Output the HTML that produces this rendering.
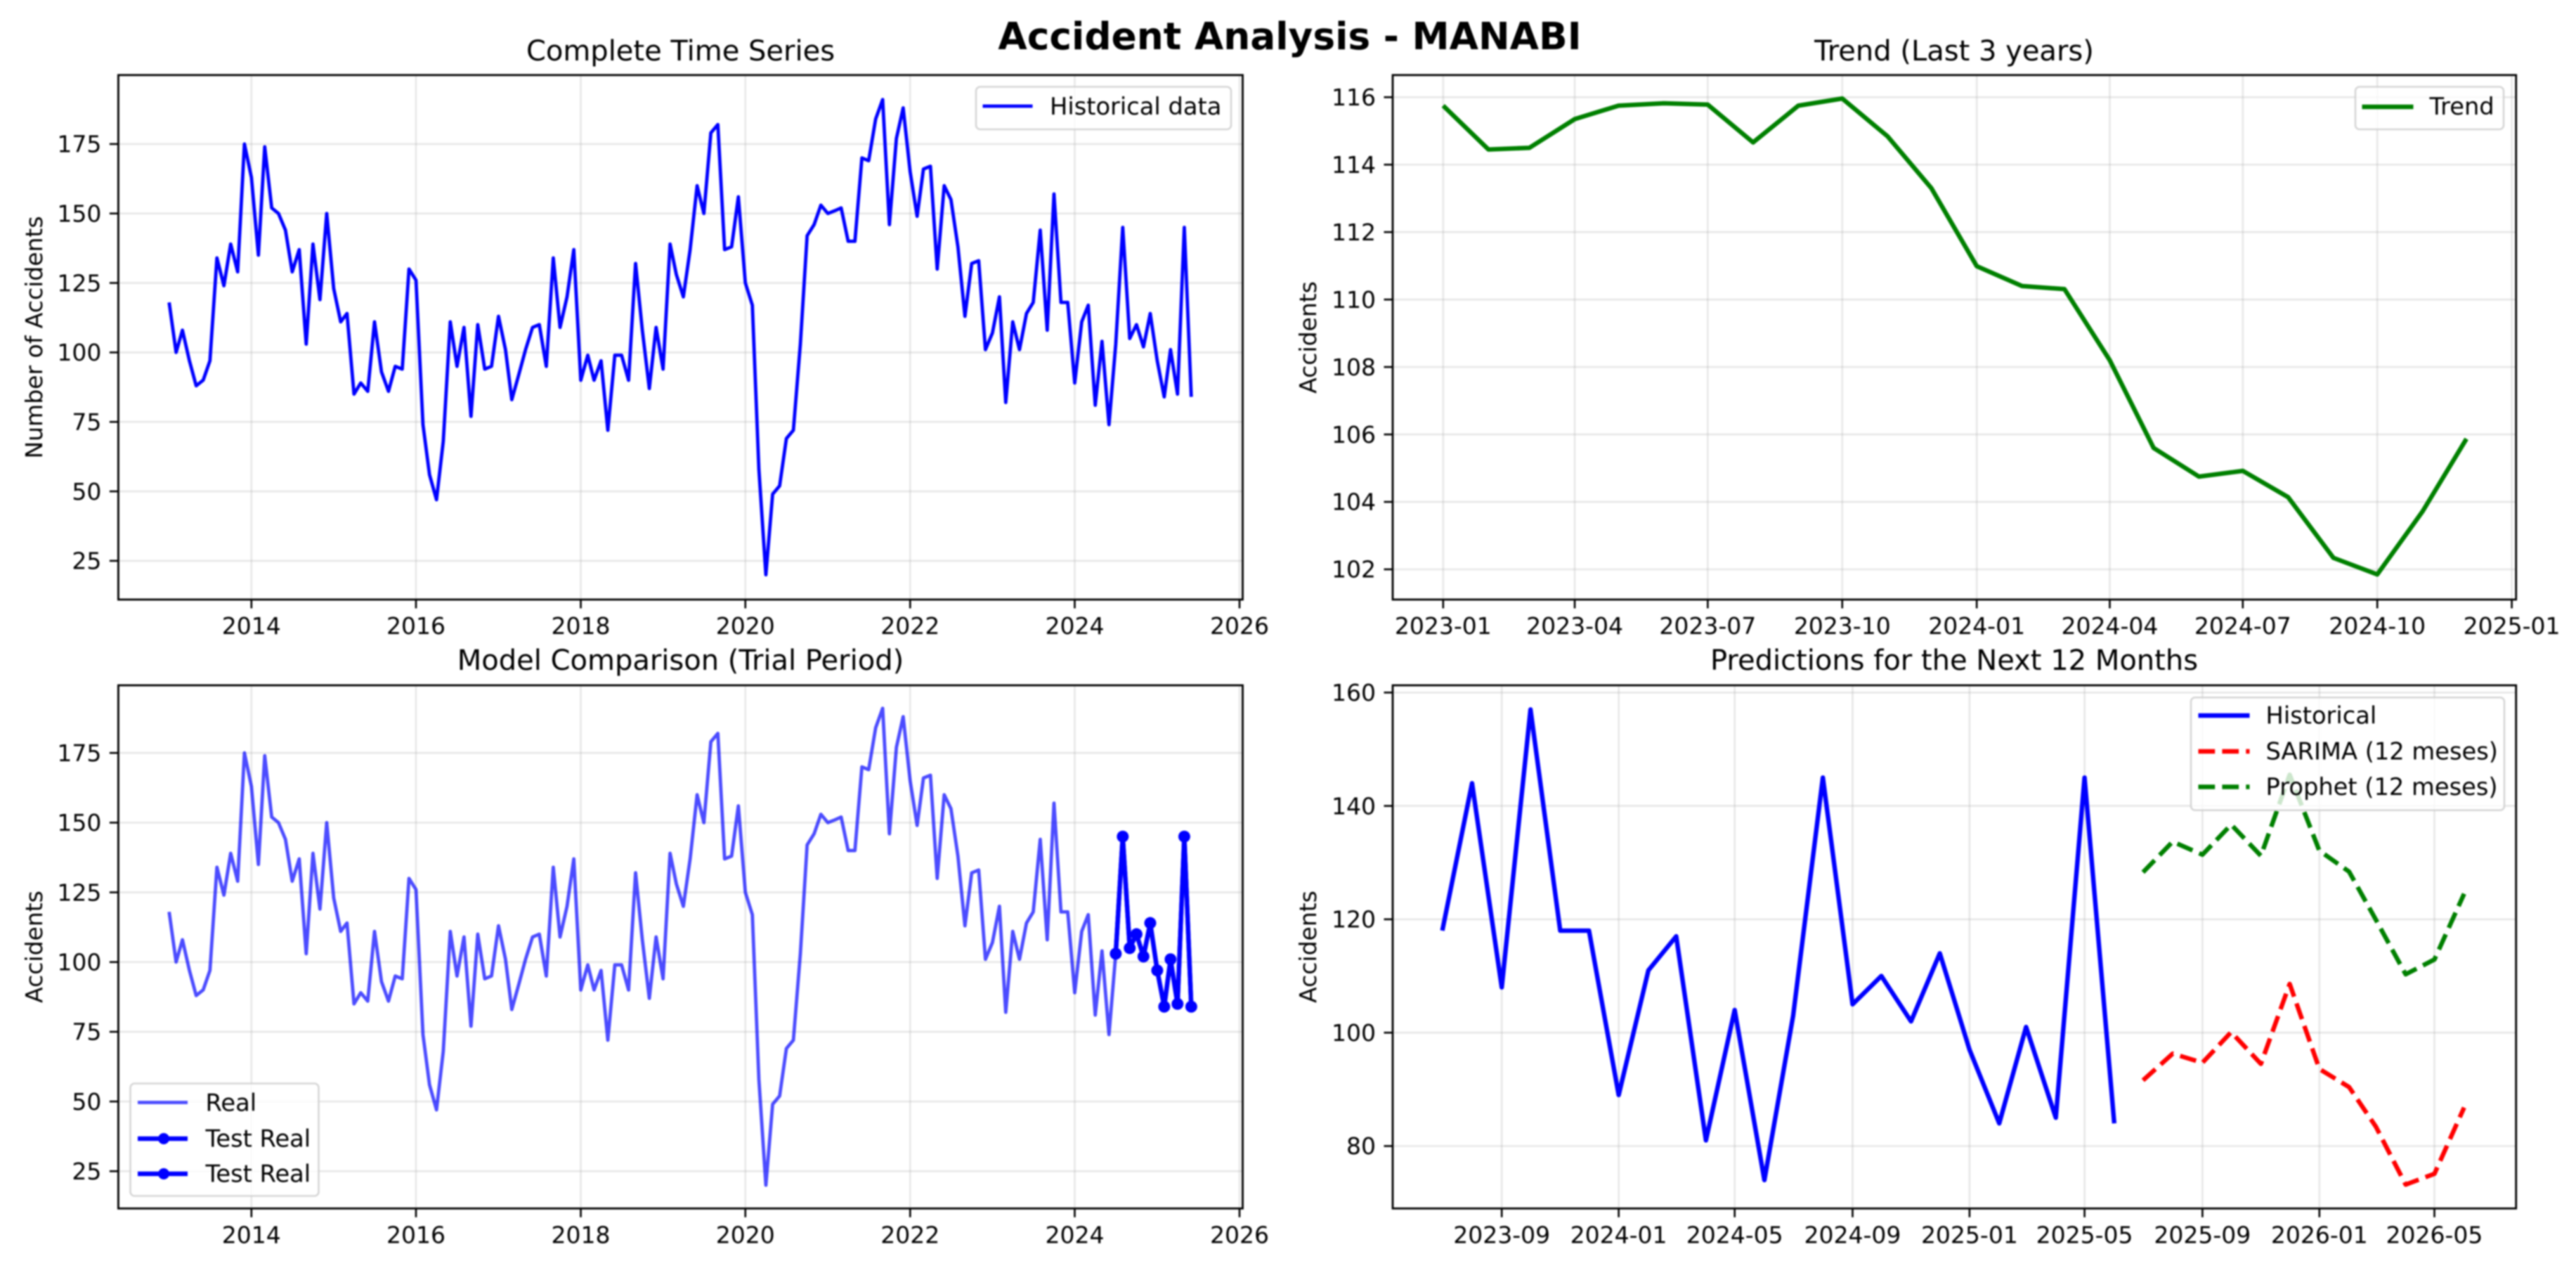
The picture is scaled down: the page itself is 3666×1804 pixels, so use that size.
<!DOCTYPE html>
<html lang="en">
<head>
<meta charset="utf-8">
<title>Accident Analysis - MANABI</title>
<style>
html,body{margin:0;padding:0;background:#fff;width:3666px;height:1804px;overflow:hidden}
svg{display:block;font-family:"DejaVu Sans","Liberation Sans",sans-serif;filter:blur(1.1px)}
.tick{font-size:33px;fill:#000}
.title{font-size:40px;fill:#000;text-anchor:middle}
.label{font-size:33px;fill:#000;text-anchor:middle}
.leg{font-size:33.7px;fill:#000}
</style>
</head>
<body>
<svg id="figure" xmlns="http://www.w3.org/2000/svg" width="3666" height="1804" viewBox="0 0 3666 1804">
  <rect width="3666" height="1804" fill="#fff"/>
  <text x="1835.5" y="70" text-anchor="middle" font-size="53.4" font-weight="700" fill="#000">Accident Analysis - MANABI</text>
  <text class="title" x="968.5" y="86">Complete Time Series</text>
  <text class="title" x="2781" y="86">Trend (Last 3 years)</text>
  <text class="title" x="968.5" y="953">Model Comparison (Trial Period)</text>
  <text class="title" x="2781" y="953">Predictions for the Next 12 Months</text>
  <text class="label" transform="translate(60 480) rotate(-90)">Number of Accidents</text>
  <text class="label" transform="translate(1873 480) rotate(-90)">Accidents</text>
  <text class="label" transform="translate(60 1347) rotate(-90)">Accidents</text>
  <text class="label" transform="translate(1873 1347) rotate(-90)">Accidents</text>
  <g id="plots"></g>
  <g id="legends">
    <g>
      <rect x="1389" y="123.5" width="363" height="60.5" rx="6" fill="#fff" fill-opacity=".8" stroke="#ccc" stroke-opacity=".8" stroke-width="2.6"/>
      <line x1="1398.5" x2="1469.5" y1="151" y2="151" stroke="#00f" stroke-width="4.8"/>
      <text class="leg" x="1494" y="163">Historical data</text>
    </g>
    <g>
      <rect x="3352" y="123.5" width="211" height="60.5" rx="6" fill="#fff" fill-opacity=".8" stroke="#ccc" stroke-opacity=".8" stroke-width="2.6"/>
      <line x1="3361.5" x2="3434.5" y1="152" y2="152" stroke="#008000" stroke-width="6.4"/>
      <text class="leg" x="3457.5" y="163">Trend</text>
    </g>
    <g>
      <rect x="185.5" y="1541.5" width="268" height="160" rx="6" fill="#fff" fill-opacity=".8" stroke="#ccc" stroke-opacity=".8" stroke-width="2.6"/>
      <line x1="196" x2="267" y1="1568.5" y2="1568.5" stroke="#00f" stroke-opacity=".7" stroke-width="4.8"/>
      <text class="leg" x="292.5" y="1580.5">Real</text>
      <line x1="196" x2="267" y1="1620" y2="1620" stroke="#00f" stroke-width="6.4"/>
      <circle cx="233" cy="1620" r="8"  fill="#00f"/>
      <text class="leg" x="292.5" y="1631.5">Test Real</text>
      <line x1="196" x2="267" y1="1670" y2="1670" stroke="#00f" stroke-width="6.4"/>
      <circle cx="233" cy="1670" r="8" fill="#00f"/>
      <text class="leg" x="292.5" y="1681.5">Test Real</text>
    </g>
    <g>
      <rect x="3118" y="992.3" width="446" height="160.4" rx="6" fill="#fff" fill-opacity=".8" stroke="#ccc" stroke-opacity=".8" stroke-width="2.6"/>
      <line x1="3128.5" x2="3201.5" y1="1018" y2="1018" stroke="#00f" stroke-width="6.4"/>
      <text class="leg" x="3224.5" y="1029.5">Historical</text>
      <line x1="3128.5" x2="3201.5" y1="1069" y2="1069" stroke="#f00" stroke-width="6.4" stroke-dasharray="23.7 10.2"/>
      <text class="leg" x="3224.5" y="1080.5">SARIMA (12 meses)</text>
      <line x1="3128.5" x2="3201.5" y1="1119.5" y2="1119.5" stroke="#008000" stroke-width="6.4" stroke-dasharray="23.7 10.2"/>
      <text class="leg" x="3224.5" y="1131">Prophet (12 meses)</text>
    </g>
  </g>
</svg>
<script>
// ---- chart data ----
const historyStart = '2013-01';
const historyValues = [
  118,100,108,97,88,90,97,134,124,139,129,175,
  163,135,174,152,150,144,129,137,103,139,119,150,
  123,111,114,85,89,86,111,93,86,95,94,130,
  126,74,56,47,68,111,95,109,77,110,94,95,
  113,101,83,92,101,109,110,95,134,109,120,137,
  90,99,90,97,72,99,99,90,132,108,87,109,
  94,139,128,120,137,160,150,179,182,137,138,156,
  125,117,58,20,49,52,69,72,103,142,146,153,
  150,151,152,140,140,170,169,184,191,146,177,188,
  165,149,166,167,130,160,155,138,113,132,133,101,
  107,120,82,111,101,114,118,144,108,157,118,118,
  89,111,117,81,104,74,103,145,105,110,102,114,
  97,84,101,85,145,84
];
const testStart = '2024-07';
const testRealValues = [103,145,105,110,102,114,97,84,101,85,145,84];
const testRealDuplicateValues = [103,145,105,110,102,114,97,84,101,85,145,84];
const trendStart = '2023-01';
const trendValues = [115.75,114.45,114.5,115.35,115.75,115.82,115.78,114.66,115.75,115.96,114.84,113.3,110.99,110.4,110.31,108.2,105.6,104.75,104.92,104.14,102.34,101.85,103.72,105.87];
const recentStart = '2023-07';
const recentValues = [118,144,108,157,118,118,89,111,117,81,104,74,103,145,105,110,102,114,97,84,101,85,145,84];
const forecastStart = '2025-07';
const sarimaValues = [91.6,96.3,94.7,100.1,94.5,108.6,93.6,90.4,83.4,73.2,75.1,86.8];
const prophetValues = [128.3,133.7,131.4,136.7,131.2,145.5,132.1,128.4,119.9,110.3,112.9,124.5];
const yearTickLabels = ['2014','2016','2018','2020','2022','2024','2026'];
const trendTickLabels = ['2023-01','2023-04','2023-07','2023-10','2024-01','2024-04','2024-07','2024-10','2025-01'];
const predictionTickLabels = ['2023-09','2024-01','2024-05','2024-09','2025-01','2025-05','2025-09','2026-01','2026-05'];
const countTickLabels = [25,50,75,100,125,150,175];
const trendYTickLabels = [102,104,106,108,110,112,114,116];
const predictionYTickLabels = [80,100,120,140,160];

// ---- helpers ----
const NS = 'http://www.w3.org/2000/svg';
const plots = document.getElementById('plots');
function make(tag, parent, attrs, text) {
  const e = document.createElementNS(NS, tag);
  for (const k in attrs) e.setAttribute(k, attrs[k]);
  if (text !== undefined) e.textContent = text;
  parent.appendChild(e);
  return e;
}
function toTime(label) {
  const p = String(label).split('-');
  return Date.UTC(+p[0], (p[1] ? +p[1] : 1) - 1, 1);
}
function monthlyTimes(start, n) {
  const p = start.split('-');
  const out = [];
  for (let i = 0; i < n; i++) out.push(Date.UTC(+p[0], +p[1] - 1 + i, 1));
  return out;
}
function linear(d0, r0, d1, r1) {
  const m = (r1 - r0) / (d1 - d0);
  return v => r0 + (v - d0) * m;
}
function pathFrom(xs, ys, sx, sy) {
  return xs.map((t, i) => (i ? 'L' : 'M') + sx(t).toFixed(2) + ' ' + sy(ys[i]).toFixed(2)).join('');
}
function drawAxes(p, name) {
  const g = make('g', plots, {});
  
  
  const clipId = name + '-clip';
  const defs = make('defs', g, {});
  const cp = make('clipPath', defs, { id: clipId });
  make('rect', cp, { x: p.left, y: p.top, width: p.right - p.left, height: p.bottom - p.top });
  p.xTicks.forEach(lab => {
    const x = p.sx(toTime(lab));
    const grid = make('line', g, { x1: x, x2: x, y1: p.top, y2: p.bottom, stroke: '#b0b0b0', 'stroke-opacity': .3, 'stroke-width': 2.6 });
    
    
    const tick = make('line', g, { x1: x, x2: x, y1: p.bottom, y2: p.bottom + 12.5, stroke: '#000', 'stroke-width': 2.6 });
    
    
    const txt = make('text', g, { class: 'tick', x: x, y: p.bottom + 49, 'text-anchor': 'middle' }, lab);
    
    
  });
  p.yTicks.forEach(v => {
    const y = p.sy(v);
    const grid = make('line', g, { x1: p.left, x2: p.right, y1: y, y2: y, stroke: '#b0b0b0', 'stroke-opacity': .3, 'stroke-width': 2.6 });
    
    
    const tick = make('line', g, { x1: p.left - 12.5, x2: p.left, y1: y, y2: y, stroke: '#000', 'stroke-width': 2.6 });
    
    
    const txt = make('text', g, { class: 'tick', x: p.left - 24, y: y + 11.7, 'text-anchor': 'end' }, String(v));
    
    
  });
  const marks = make('g', g, { 'clip-path': 'url(#' + clipId + ')' });
  
  
  const frame = make('rect', g, { x: p.left, y: p.top, width: p.right - p.left, height: p.bottom - p.top, fill: 'none', stroke: '#000', 'stroke-width': 2.8 });
  
  
  return marks;
}
function series(parent, p, start, values, style, name) {
  const xs = monthlyTimes(start, values.length);
  const line = make('path', parent, Object.assign({ d: pathFrom(xs, values, p.sx, p.sy), fill: 'none', 'stroke-linejoin': 'round' }, style));
  
  
  return xs;
}

// ---- panels ----
const panelComplete = {
  left: 168.4, right: 1768.5, top: 106.8, bottom: 853,
  sx: linear(toTime('2014'), 357.8, toTime('2026'), 1764),
  sy: linear(25, 797.9, 175, 204.9),
  xTicks: yearTickLabels, yTicks: countTickLabels
};
const panelTrend = {
  left: 1982, right: 3580.7, top: 106.8, bottom: 853,
  sx: linear(toTime('2023-01'), 2053.8, toTime('2025-01'), 3574.6),
  sy: linear(102, 810, 116, 138.3),
  xTicks: trendTickLabels, yTicks: trendYTickLabels
};
const panelCompare = {
  left: 168.4, right: 1768.5, top: 975, bottom: 1719.3,
  sx: panelComplete.sx,
  sy: linear(25, 1666.3, 175, 1071.2),
  xTicks: yearTickLabels, yTicks: countTickLabels
};
const panelPredict = {
  left: 1982, right: 3580.7, top: 975, bottom: 1719.3,
  sx: linear(toTime('2023-09'), 2137.2, toTime('2026-05'), 3464.5),
  sy: linear(80, 1630.5, 160, 985.3),
  xTicks: predictionTickLabels, yTicks: predictionYTickLabels
};

// Complete time series
const m1 = drawAxes(panelComplete, 'complete-series');
series(m1, panelComplete, historyStart, historyValues, { stroke: '#00f', 'stroke-width': 4.8 }, 'historical-data-line');

// Trend
const m2 = drawAxes(panelTrend, 'trend');
series(m2, panelTrend, trendStart, trendValues, { stroke: '#008000', 'stroke-width': 6.4 }, 'trend-line');

// Model comparison
const m3 = drawAxes(panelCompare, 'model-comparison');
series(m3, panelCompare, historyStart, historyValues, { stroke: '#00f', 'stroke-opacity': .7, 'stroke-width': 4.8 }, 'real-line');
[testRealValues, testRealDuplicateValues].forEach(vals => {
  const xs = series(m3, panelCompare, testStart, vals, { stroke: '#00f', 'stroke-width': 6.4 }, 'test-real-line');
  xs.forEach((t, i) => {
    const pt = make('circle', m3, { cx: panelCompare.sx(t), cy: panelCompare.sy(vals[i]), r: 8.4, fill: '#00f' });
    
    
  });
});

// Predictions
const m4 = drawAxes(panelPredict, 'predictions');
series(m4, panelPredict, recentStart, recentValues, { stroke: '#00f', 'stroke-width': 6.4 }, 'historical-line');
series(m4, panelPredict, forecastStart, sarimaValues, { stroke: '#f00', 'stroke-width': 6.4, 'stroke-dasharray': '23.7 10.2' }, 'sarima-forecast-line');
series(m4, panelPredict, forecastStart, prophetValues, { stroke: '#008000', 'stroke-width': 6.4, 'stroke-dasharray': '23.7 10.2' }, 'prophet-forecast-line');
</script>
</body>
</html>
